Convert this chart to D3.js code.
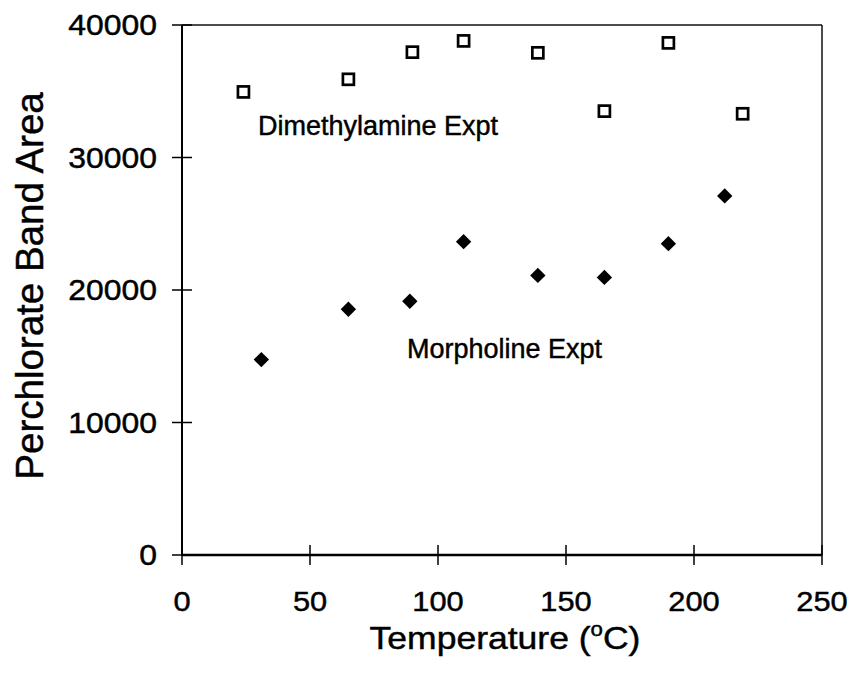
<!DOCTYPE html>
<html>
<head>
<meta charset="utf-8">
<script src="https://cdn.jsdelivr.net/npm/d3@7"></script>
<style>
  html, body { margin: 0; padding: 0; background: #fff; }
  svg { display: block; font-family: "Liberation Sans", Arial, sans-serif; }
  text { stroke: #000; stroke-width: 0.45px; }
</style>
</head>
<body>
<svg id="chart" width="853" height="678"></svg>
<script>
// Perchlorate band area vs. temperature for two amine experiments
const dimethylTemp = [24, 65, 90, 110, 139, 165, 190, 219];
const dimethylArea = [34950, 35900, 37950, 38800, 37900, 33500, 38650, 33300];

const morpholineTemp = [31, 65, 89, 110, 139, 165, 190, 212];
const morpholineArea = [14750, 18550, 19150, 23650, 21100, 20950, 23500, 27100];

const xTicks = [0, 50, 100, 150, 200, 250];
const yTicks = [0, 10000, 20000, 30000, 40000];

const seriesLabels = ["Dimethylamine Expt", "Morpholine Expt"];
const xTitle = "Temperature (";
const yTitle = "Perchlorate Band Area";

const svg = d3.select("#chart");
const plotLeft = 182, plotRight = 822, plotTop = 25, plotBottom = 555;

const x = d3.scaleLinear().domain([0, 250]).range([plotLeft, plotRight]);
const y = d3.scaleLinear().domain([0, 40000]).range([plotBottom, plotTop]);

// frame: thin top/right, heavier left/bottom axes
svg.append("line").attr("x1", plotLeft).attr("x2", plotRight).attr("y1", plotTop).attr("y2", plotTop)
  .attr("stroke", "#111").attr("stroke-width", 1.5);
svg.append("line").attr("x1", plotRight).attr("x2", plotRight).attr("y1", plotTop).attr("y2", plotBottom)
  .attr("stroke", "#111").attr("stroke-width", 1.5);
svg.append("line").attr("x1", plotLeft).attr("x2", plotLeft).attr("y1", plotTop).attr("y2", plotBottom)
  .attr("stroke", "#000").attr("stroke-width", 2);
svg.append("line").attr("x1", plotLeft).attr("x2", plotRight).attr("y1", plotBottom).attr("y2", plotBottom)
  .attr("stroke", "#000").attr("stroke-width", 2.5);

// crossing tick marks
svg.selectAll(".ytick").data(yTicks).join("line")
  .attr("x1", plotLeft - 10).attr("x2", plotLeft + 10)
  .attr("y1", d => y(d)).attr("y2", d => y(d))
  .attr("stroke", "#000").attr("stroke-width", 1.5);
svg.selectAll(".xtick").data(xTicks).join("line")
  .attr("x1", d => x(d)).attr("x2", d => x(d))
  .attr("y1", plotBottom - 10).attr("y2", plotBottom + 10)
  .attr("stroke", "#000").attr("stroke-width", 1.5);

// tick labels (slightly wide lettering)
svg.selectAll(".ylab").data(yTicks).join("text")
  .attr("transform", d => `translate(157,${y(d)}) scale(1.1,1)`)
  .attr("text-anchor", "end").attr("dominant-baseline", "central")
  .attr("font-size", 29).attr("fill", "#000")
  .text(d => d);
svg.selectAll(".xlab").data(xTicks).join("text")
  .attr("transform", d => `translate(${x(d)},601) scale(1.1,1)`)
  .attr("text-anchor", "middle").attr("dominant-baseline", "central")
  .attr("font-size", 28).attr("fill", "#000")
  .text(d => d);

// axis titles
const xt = svg.append("text")
  .attr("transform", "translate(505,649) scale(1.11,1)")
  .attr("text-anchor", "middle").attr("font-size", 32).attr("fill", "#000");
xt.append("tspan").text(xTitle);
xt.append("tspan").attr("dy", -13).attr("font-size", 20).text("o");
xt.append("tspan").attr("dy", 13).text("C)");

svg.append("text")
  .attr("transform", "translate(43,286) rotate(-90)")
  .attr("text-anchor", "middle").attr("font-size", 38.5).attr("fill", "#000")
  .text(yTitle);

// series annotations
svg.append("text").attr("x", 258).attr("y", 135).attr("font-size", 27).attr("fill", "#000")
  .text(seriesLabels[0]);
svg.append("text").attr("x", 407).attr("y", 358).attr("font-size", 27).attr("fill", "#000")
  .text(seriesLabels[1]);

// dimethylamine: open squares
const sq = 11;
svg.selectAll(".dm").data(dimethylTemp.map((t, i) => [t, dimethylArea[i]])).join("rect")
  .attr("x", d => x(d[0]) - sq / 2).attr("y", d => y(d[1]) - sq / 2)
  .attr("width", sq).attr("height", sq)
  .attr("fill", "#fff").attr("stroke", "#000").attr("stroke-width", 2.7);

// morpholine: filled diamonds
const diamond = d3.symbol().type(d3.symbolSquare).size(118);
svg.selectAll(".mo").data(morpholineTemp.map((t, i) => [t, morpholineArea[i]])).join("path")
  .attr("d", diamond)
  .attr("transform", d => `translate(${x(d[0])},${y(d[1])}) rotate(45)`)
  .attr("fill", "#000");
</script>
</body>
</html>
